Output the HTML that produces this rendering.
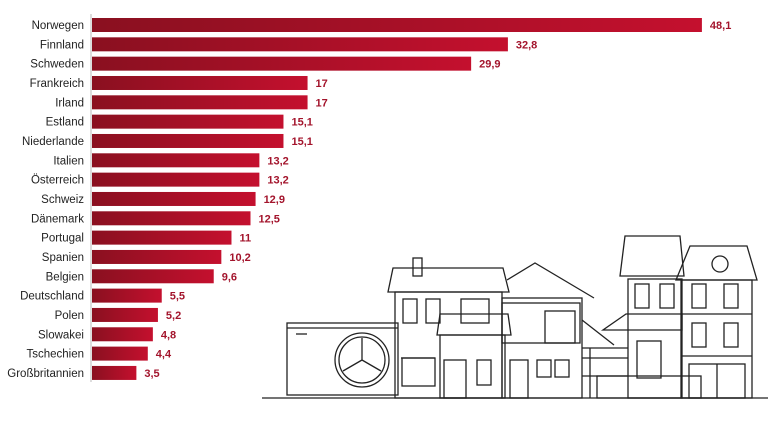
<!DOCTYPE html>
<html><head><meta charset="utf-8"><style>
body{margin:0;background:#fff;width:768px;height:418px;overflow:hidden;font-family:"Liberation Sans",sans-serif}
</style></head><body>
<svg width="768" height="418" viewBox="0 0 768 418" xmlns="http://www.w3.org/2000/svg">
<defs><linearGradient id="g" x1="0" x2="1" y1="0" y2="0"><stop offset="0" stop-color="#8a1020"/><stop offset="1" stop-color="#c4102e"/></linearGradient></defs>
<line x1="91" y1="14" x2="91" y2="382" stroke="#bbb" stroke-width="1"/>
<g font-size="11.5" fill="#222" text-anchor="end" id="labels"></g>
<g id="bars"></g>
<g fill="none" stroke="#222" stroke-width="1.3">
<line x1="262" y1="398" x2="768" y2="398"/>
<rect x="287" y="323" width="111" height="72"/><line x1="287" y1="328" x2="398" y2="328"/><line x1="296" y1="334" x2="307" y2="334"/>
<circle cx="362" cy="360" r="27"/><circle cx="362" cy="360" r="23"/>
<path d="M362 360 L362 338 M362 360 L343 371 M362 360 L381 371"/>
<polygon points="388,292 509,292 503,268 393,268"/><rect x="413" y="258" width="9" height="18"/>
<rect x="395" y="292" width="107" height="106"/>
<rect x="403" y="299" width="14" height="24"/><rect x="426" y="299" width="14" height="24"/><rect x="461" y="299" width="28" height="24"/>
<rect x="402" y="358" width="33" height="28"/><line x1="401" y1="358" x2="435" y2="358"/>
<polygon points="437,335 511,335 508,314 440,314"/><rect x="440" y="335" width="65" height="63"/>
<rect x="444" y="360" width="22" height="38"/><rect x="477" y="360" width="14" height="25"/>
<polyline points="507,280 535,263 594,298"/><rect x="502" y="298" width="80" height="100"/>
<rect x="502" y="303" width="78" height="40"/><rect x="545" y="311" width="30" height="32"/>
<rect x="537" y="360" width="14" height="17"/><rect x="555" y="360" width="14" height="17"/><rect x="510" y="360" width="18" height="38"/>
<path d="M582 320 L614 345 M582 348 L628 348 M582 358 L628 358 M582 376 L628 376 M590 348 L590 398"/>
<rect x="597" y="376" width="104" height="22"/>
<polygon points="620,276 684,276 680,236 625,236"/><rect x="628" y="279" width="54" height="119"/>
<rect x="635" y="284" width="14" height="24"/><rect x="660" y="284" width="14" height="24"/>
<polygon points="603,330 682,330 682,314 626,314"/><rect x="637" y="341" width="24" height="37"/>
<polygon points="676,280 757,280 747,246 690,246"/><circle cx="720" cy="264" r="8"/>
<rect x="681" y="280" width="71" height="118"/><line x1="681" y1="314" x2="752" y2="314"/><line x1="681" y1="356" x2="752" y2="356"/>
<rect x="692" y="284" width="14" height="24"/><rect x="724" y="284" width="14" height="24"/>
<rect x="692" y="323" width="14" height="24"/><rect x="724" y="323" width="14" height="24"/>
<rect x="689" y="364" width="56" height="34"/><line x1="717" y1="364" x2="717" y2="398"/>
</g>
</svg>
<script>
var d=[["Norwegen",48.1],["Finnland",32.8],["Schweden",29.9],["Frankreich",17],["Irland",17],["Estland",15.1],["Niederlande",15.1],["Italien",13.2],["Österreich",13.2],["Schweiz",12.9],["Dänemark",12.5],["Portugal",11],["Spanien",10.2],["Belgien",9.6],["Deutschland",5.5],["Polen",5.2],["Slowakei",4.8],["Tschechien",4.4],["Großbritannien",3.5]];
var L=document.getElementById("labels"),B=document.getElementById("bars"),ns="http://www.w3.org/2000/svg";
d.forEach(function(r,i){var y=18+i*19.33,w=r[1]*12.68;
var t=document.createElementNS(ns,"text");t.setAttribute("x",84);t.setAttribute("y",y+11);t.textContent=r[0];L.appendChild(t);
var b=document.createElementNS(ns,"rect");b.setAttribute("x",92);b.setAttribute("y",y);b.setAttribute("width",w);b.setAttribute("height",14);b.setAttribute("fill","url(#g)");B.appendChild(b);
var v=document.createElementNS(ns,"text");v.setAttribute("x",92+w+8);v.setAttribute("y",y+11);v.setAttribute("font-size","11");v.setAttribute("font-weight","bold");v.setAttribute("fill","#a3142c");v.textContent=String(r[1]).replace(".",",");B.appendChild(v);});
</script>
</body></html>
